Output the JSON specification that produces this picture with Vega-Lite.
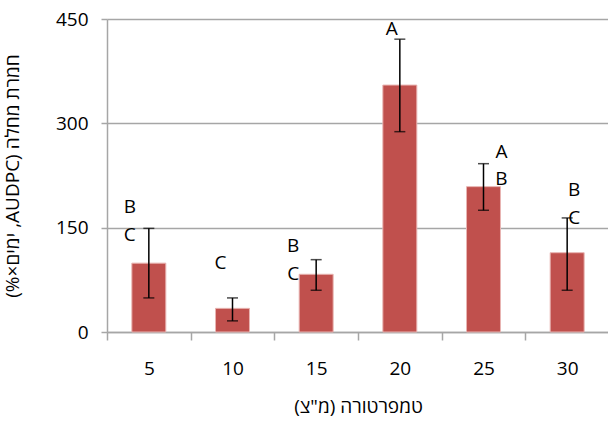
{
  "$schema": "https://vega.github.io/schema/vega-lite/v6.json",
  "width": 502,
  "height": 313,
  "autosize": {"type": "none"},
  "padding": {"left": 107, "top": 19, "right": 0, "bottom": 90},
  "config": {"view": {"stroke": null}, "font": "Open Sans"},
  "datasets": {
    "bars": [
      {"t": "5", "v": 99, "lo": 49, "hi": 149},
      {"t": "10", "v": 34, "lo": 16, "hi": 49},
      {"t": "15", "v": 83, "lo": 60, "hi": 104},
      {"t": "20", "v": 355, "lo": 288, "hi": 421},
      {"t": "25", "v": 209, "lo": 175, "hi": 242},
      {"t": "30", "v": 114, "lo": 60, "hi": 164}
    ],
    "letters": [
      {"t": "5", "letter": "B", "ly": 179},
      {"t": "5", "letter": "C", "ly": 139},
      {"t": "10", "letter": "C", "ly": 99},
      {"t": "15", "letter": "B", "ly": 124},
      {"t": "15", "letter": "C", "ly": 83},
      {"t": "20", "letter": "A", "ly": 435},
      {"t": "25", "letter": "A", "ly": 259},
      {"t": "25", "letter": "B", "ly": 220},
      {"t": "30", "letter": "B", "ly": 204},
      {"t": "30", "letter": "C", "ly": 164}
    ]
  },
  "encoding": {
    "x": {
      "field": "t",
      "type": "ordinal",
      "sort": ["5", "10", "15", "20", "25", "30"],
      "scale": {"paddingInner": 0, "paddingOuter": 0},
      "axis": {
        "title": "\u202bטמפרטורה (מ\"צ)\u202c",
        "labelAngle": 0,
        "tickBand": "extent",
        "tickSize": 8,
        "tickColor": "#A6A6A6",
        "tickWidth": 1.5,
        "domainColor": "#A6A6A6",
        "domainWidth": 1.5,
        "labelFontSize": 19,
        "labelColor": "#000000",
        "labelPadding": 19,
        "titleFontSize": 19,
        "titleFontWeight": "normal",
        "titleColor": "#000000",
        "titlePadding": 19
      }
    }
  },
  "layer": [
    {
      "data": {"name": "bars"},
      "mark": {"type": "bar", "color": "#C0504D", "stroke": "#E8B4B2", "strokeWidth": 1, "width": {"band": 0.406}},
      "encoding": {
        "y": {
          "field": "v",
          "type": "quantitative",
          "scale": {"domain": [0, 450]},
          "axis": {
            "values": [0, 150, 300, 450],
            "title": "\u202bחמרת מחלה (AUDPC, ימים×%)\u202c",
            "grid": true,
            "gridColor": "#A6A6A6",
            "gridWidth": 1.5,
            "domainColor": "#A6A6A6",
            "domainWidth": 1.5,
            "tickColor": "#A6A6A6",
            "tickWidth": 1.5,
            "tickSize": 6,
            "labelFontSize": 19,
            "labelColor": "#000000",
            "labelPadding": 13,
            "titleFontSize": 19,
            "titleFontWeight": "normal",
            "titleColor": "#000000",
            "titlePadding": 33
          }
        }
      }
    },
    {
      "data": {"name": "bars"},
      "mark": {"type": "rule", "color": "#000000", "strokeWidth": 1.5},
      "encoding": {
        "y": {"field": "lo", "type": "quantitative"},
        "y2": {"field": "hi"}
      }
    },
    {
      "data": {"name": "bars"},
      "mark": {"type": "tick", "color": "#000000", "size": 11, "thickness": 1.5},
      "encoding": {"y": {"field": "lo", "type": "quantitative"}}
    },
    {
      "data": {"name": "bars"},
      "mark": {"type": "tick", "color": "#000000", "size": 11, "thickness": 1.5},
      "encoding": {"y": {"field": "hi", "type": "quantitative"}}
    },
    {
      "data": {"name": "letters"},
      "transform": [{"filter": "datum.t == '5'"}],
      "mark": {"type": "text", "fontSize": 19, "color": "#000000", "baseline": "middle", "align": "center", "dx": -19},
      "encoding": {"y": {"field": "ly", "type": "quantitative"}, "text": {"field": "letter"}}
    },
    {
      "data": {"name": "letters"},
      "transform": [{"filter": "datum.t == '10'"}],
      "mark": {"type": "text", "fontSize": 19, "color": "#000000", "baseline": "middle", "align": "center", "dx": -12},
      "encoding": {"y": {"field": "ly", "type": "quantitative"}, "text": {"field": "letter"}}
    },
    {
      "data": {"name": "letters"},
      "transform": [{"filter": "datum.t == '15'"}],
      "mark": {"type": "text", "fontSize": 19, "color": "#000000", "baseline": "middle", "align": "center", "dx": -23},
      "encoding": {"y": {"field": "ly", "type": "quantitative"}, "text": {"field": "letter"}}
    },
    {
      "data": {"name": "letters"},
      "transform": [{"filter": "datum.t == '20'"}],
      "mark": {"type": "text", "fontSize": 19, "color": "#000000", "baseline": "middle", "align": "center", "dx": -8},
      "encoding": {"y": {"field": "ly", "type": "quantitative"}, "text": {"field": "letter"}}
    },
    {
      "data": {"name": "letters"},
      "transform": [{"filter": "datum.t == '25'"}],
      "mark": {"type": "text", "fontSize": 19, "color": "#000000", "baseline": "middle", "align": "center", "dx": 18},
      "encoding": {"y": {"field": "ly", "type": "quantitative"}, "text": {"field": "letter"}}
    },
    {
      "data": {"name": "letters"},
      "transform": [{"filter": "datum.t == '30'"}],
      "mark": {"type": "text", "fontSize": 19, "color": "#000000", "baseline": "middle", "align": "center", "dx": 7},
      "encoding": {"y": {"field": "ly", "type": "quantitative"}, "text": {"field": "letter"}}
    }
  ]
}
